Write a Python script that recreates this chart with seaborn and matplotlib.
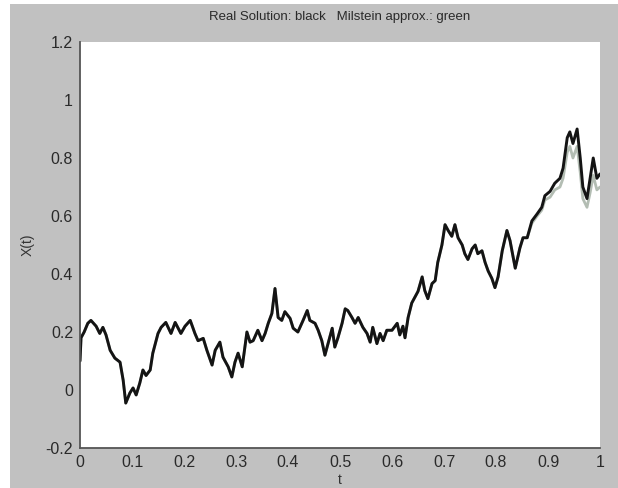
import matplotlib
matplotlib.use("Agg")
import matplotlib.pyplot as plt
from matplotlib.patches import Rectangle
import seaborn as sns
import pandas as pd

# time points
t = [0.000, 0.002, 0.008, 0.015, 0.021, 0.031, 0.038, 0.044, 0.050, 0.058,
     0.067, 0.077, 0.083, 0.088, 0.096, 0.102, 0.108, 0.115, 0.121, 0.127,
     0.135, 0.140, 0.150, 0.156, 0.165, 0.175, 0.183, 0.188, 0.194, 0.202,
     0.212, 0.221, 0.227, 0.237, 0.244, 0.254, 0.260, 0.269, 0.275, 0.285,
     0.292, 0.298, 0.304, 0.312, 0.321, 0.327, 0.333, 0.342, 0.350, 0.356,
     0.362, 0.369, 0.375, 0.381, 0.388, 0.394, 0.404, 0.410, 0.419, 0.429,
     0.437, 0.442, 0.452, 0.458, 0.465, 0.471, 0.477, 0.485, 0.490, 0.496,
     0.504, 0.510, 0.515, 0.523, 0.529, 0.535, 0.544, 0.552, 0.558, 0.563,
     0.571, 0.577, 0.583, 0.590, 0.600, 0.610, 0.615, 0.621, 0.625, 0.631,
     0.638, 0.644, 0.650, 0.658, 0.663, 0.669, 0.677, 0.683, 0.688, 0.696,
     0.702, 0.708, 0.715, 0.721, 0.727, 0.735, 0.740, 0.746, 0.754, 0.760,
     0.765, 0.773, 0.779, 0.785, 0.792, 0.798, 0.804, 0.812, 0.821, 0.827,
     0.837, 0.846, 0.852, 0.860, 0.869, 0.879, 0.888, 0.894, 0.904, 0.913,
     0.923, 0.929, 0.937, 0.942, 0.948, 0.956, 0.962, 0.967, 0.975, 0.981,
     0.987, 0.994, 1.000]

# real solution (black)
x_real = [0.100, 0.180, 0.200, 0.230, 0.240, 0.220, 0.195, 0.216, 0.190, 0.137,
          0.110, 0.096, 0.034, -0.045, -0.010, 0.007, -0.017, 0.024, 0.069, 0.050,
          0.069, 0.127, 0.195, 0.216, 0.233, 0.195, 0.233, 0.216, 0.195, 0.220,
          0.240, 0.195, 0.170, 0.178, 0.137, 0.086, 0.137, 0.165, 0.113, 0.080,
          0.045, 0.096, 0.127, 0.080, 0.200, 0.165, 0.170, 0.206, 0.170, 0.195,
          0.230, 0.264, 0.350, 0.250, 0.240, 0.270, 0.247, 0.213, 0.200, 0.240,
          0.274, 0.240, 0.230, 0.206, 0.170, 0.120, 0.160, 0.213, 0.148, 0.180,
          0.230, 0.280, 0.274, 0.250, 0.230, 0.250, 0.216, 0.195, 0.165, 0.216,
          0.160, 0.195, 0.170, 0.206, 0.206, 0.230, 0.190, 0.220, 0.180, 0.250,
          0.300, 0.320, 0.340, 0.390, 0.343, 0.315, 0.367, 0.377, 0.440, 0.500,
          0.570, 0.550, 0.530, 0.570, 0.525, 0.500, 0.470, 0.450, 0.487, 0.500,
          0.470, 0.480, 0.440, 0.410, 0.385, 0.353, 0.390, 0.480, 0.550, 0.515,
          0.420, 0.490, 0.525, 0.525, 0.583, 0.607, 0.630, 0.670, 0.685, 0.713,
          0.730, 0.765, 0.870, 0.890, 0.850, 0.900, 0.800, 0.700, 0.660, 0.730,
          0.800, 0.730, 0.745]

# Milstein approximation (green)
x_milstein = [0.100, 0.180, 0.200, 0.230, 0.240, 0.220, 0.195, 0.216, 0.190, 0.137,
              0.110, 0.096, 0.034, -0.045, -0.010, 0.007, -0.017, 0.024, 0.069, 0.050,
              0.069, 0.127, 0.195, 0.216, 0.233, 0.195, 0.233, 0.216, 0.195, 0.220,
              0.240, 0.195, 0.170, 0.178, 0.137, 0.086, 0.137, 0.165, 0.113, 0.080,
              0.045, 0.096, 0.127, 0.080, 0.200, 0.165, 0.170, 0.206, 0.170, 0.195,
              0.230, 0.264, 0.350, 0.250, 0.240, 0.270, 0.247, 0.213, 0.200, 0.240,
              0.274, 0.240, 0.230, 0.206, 0.170, 0.120, 0.160, 0.213, 0.148, 0.180,
              0.230, 0.280, 0.274, 0.250, 0.230, 0.250, 0.216, 0.195, 0.165, 0.216,
              0.160, 0.195, 0.170, 0.206, 0.206, 0.230, 0.190, 0.220, 0.180, 0.250,
              0.300, 0.320, 0.340, 0.390, 0.343, 0.315, 0.367, 0.377, 0.440, 0.500,
              0.570, 0.550, 0.530, 0.570, 0.525, 0.500, 0.470, 0.450, 0.487, 0.500,
              0.470, 0.480, 0.440, 0.410, 0.385, 0.353, 0.390, 0.480, 0.550, 0.515,
              0.420, 0.490, 0.525, 0.525, 0.575, 0.600, 0.620, 0.655, 0.665, 0.690,
              0.700, 0.730, 0.820, 0.840, 0.800, 0.840, 0.750, 0.660, 0.630, 0.680,
              0.740, 0.690, 0.700]

x_ticks = [0, 0.1, 0.2, 0.3, 0.4, 0.5, 0.6, 0.7, 0.8, 0.9, 1]
x_ticklabels = ["0", "0.1", "0.2", "0.3", "0.4", "0.5", "0.6", "0.7", "0.8", "0.9", "1"]
y_ticks = [-0.2, 0, 0.2, 0.4, 0.6, 0.8, 1, 1.2]
y_ticklabels = ["-0.2", "0", "0.2", "0.4", "0.6", "0.8", "1", "1.2"]

title = "Real Solution: black   Milstein approx.: green"

sns.set_style("white")
plt.rcParams["font.family"] = ["Liberation Sans", "DejaVu Sans"]

W, H = 618, 488
fig = plt.figure(figsize=(W / 100, H / 100), dpi=100)
fig.patch.set_facecolor("white")
fig.patches.append(Rectangle((10 / W, 0), 1 - 10 / W, 1 - 4 / H,
                             transform=fig.transFigure, facecolor="#c1c1c1",
                             edgecolor="none", zorder=-10))

ax = fig.add_axes([80 / W, 40 / H, 520 / W, 406 / H])
ax.set_facecolor("white")

df_m = pd.DataFrame({"t": t, "X": x_milstein})
df_r = pd.DataFrame({"t": t, "X": x_real})
sns.lineplot(data=df_m, x="t", y="X", ax=ax, color="#b3bdb3", lw=2.0,
             sort=False, estimator=None)
sns.lineplot(data=df_r, x="t", y="X", ax=ax, color="#141414", lw=2.1,
             sort=False, estimator=None)

ax.set_xlim(0, 1)
ax.set_ylim(-0.2, 1.2)
ax.set_xticks(x_ticks)
ax.set_xticklabels(x_ticklabels)
ax.set_yticks(y_ticks)
ax.set_yticklabels(y_ticklabels)
ax.tick_params(direction="in", length=4, width=1, colors="#444444",
               labelcolor="#2a2a2a", labelsize=11.5, pad=5)

for s in ["top", "right"]:
    ax.spines[s].set_visible(False)
for s in ["left", "bottom"]:
    ax.spines[s].set_color("#555555")
    ax.spines[s].set_linewidth(1.3)

ax.set_xlabel("t", fontsize=10, color="#333333", labelpad=2)
ax.set_ylabel("X(t)", fontsize=10, color="#333333", labelpad=8)
ax.set_title(title, fontsize=9.5, color="#2a2a2a", pad=16)

fig.savefig("out.png", dpi=100, facecolor=fig.get_facecolor())
